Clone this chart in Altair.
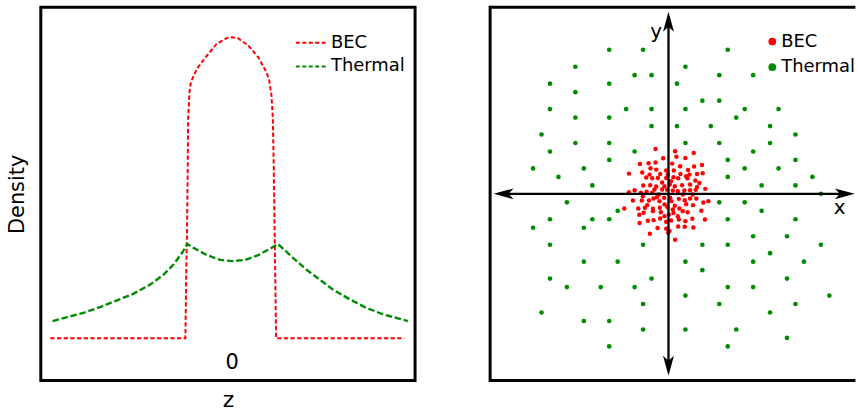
import altair as alt
import pandas as pd

FONT = "DejaVu Sans"
RED = "#ff0000"
GREEN = "#008c00"

# ---------------- data: left panel (density profiles along z) ----------------
bec_z = [-3.97, -1.02, -1.01, -1.00, -0.985, -0.97, -0.96, -0.93, -0.90, -0.77, -0.55,
         -0.34, -0.12, 0.0, 0.13, 0.35, 0.57, 0.75, 0.81, 0.86, 0.89, 0.91, 0.93, 0.95,
         0.96, 3.76]
bec_d = [0, 0, 0.123, 0.234, 0.344, 0.565, 0.730, 0.818, 0.851, 0.895, 0.939,
         0.978, 0.997, 1.0, 0.997, 0.973, 0.934, 0.884, 0.857, 0.807, 0.730, 0.565,
         0.344, 0.123, 0, 0]
thermal_z = [-3.92, -3.60, -3.23, -2.87, -2.51, -2.15, -1.78, -1.49, -1.28, -1.09, -0.98,
             -0.84, -0.55, -0.26, 0.0, 0.28, 0.57, 0.86, 1.0,
             1.11, 1.33, 1.62, 1.91, 2.20, 2.57, 2.93, 3.30, 3.84]
thermal_d = [0.057, 0.070, 0.085, 0.104, 0.126, 0.148, 0.179, 0.212, 0.245, 0.284, 0.313,
             0.300, 0.276, 0.260, 0.256, 0.260, 0.276, 0.300, 0.313,
             0.298, 0.267, 0.228, 0.195, 0.162, 0.129, 0.101, 0.079, 0.057]
series_names = ["BEC", "Thermal"]
series_colors = [RED, GREEN]
tick_values = [0]
tick_labels = ["0"]

# ---------------- data: right panel (atoms in the x-y plane) ----------------
# thermal atoms: row (y) -> x positions
green_rows = {
    17: [-7, -3, 7], 15: [-11, 2], 14: [-4, -2, 6, 10], 13: [-14, -7, 1], 12: [-11],
    11: [4, 6], 10: [-14, -5, -2, 2, 9, 13], 9: [-11, -7, 8], 8: [-2, 1, 5, 12],
    7: [-15, 15], 6: [-11, -7, 2, 6, 12], 5: [-14, -4, 10], 4: [-7, 7, 15],
    3: [-16, -10, 9, 13], 2: [-13, 7, 17], 1: [-9, 11, 15], 0: [18],
    -1: [-12, 6, 9], -2: [-6, 11], -3: [-14, -9, -7, 7, 15], -4: [-16, -10],
    -5: [10, 14], -6: [-14, -3, 4, 7, 18], -7: [12], -8: [-10, -6, 2, 10, 16],
    -9: [4], -10: [-14, -2, 14], -11: [-12, -8, -4, 7, 10], -12: [2, 19],
    -13: [-3, 6, 15], -14: [-15, 12], -15: [-10, -7], -16: [-3, 2, 8], -17: [14],
    -18: [-7, 7],
}
bec_points = [
    (-1.53, 5.29), (0.78, 5.02), (2.98, 4.82), (0.94, 4.39), (-0.63, 4.20), (2.00, 4.24),
    (-3.37, 3.53), (-2.35, 3.61), (-1.53, 3.69), (0.43, 3.57), (1.37, 3.25), (3.02, 3.22), (3.96, 3.41),
    (-2.12, 3.02), (-1.45, 2.86), (-0.27, 2.75), (0.63, 2.75), (2.31, 2.82),
    (-4.67, 2.39), (-3.10, 2.51), (-0.98, 2.35), (-0.08, 2.27), (1.41, 2.35), (2.08, 2.08), (3.37, 2.35), (4.04, 2.43),
    (-2.63, 1.92), (-1.92, 1.84), (-1.25, 1.88), (-0.27, 1.88), (0.59, 1.96), (1.14, 1.84), (2.24, 1.84), (3.18, 1.57),
    (-2.98, 0.98), (-2.16, 1.02), (-1.45, 0.86), (-0.75, 1.33), (0.16, 1.10), (0.75, 0.90), (1.61, 1.02), (2.55, 1.10),
    (3.37, 0.82), (4.35, 0.59),
    (-4.00, 0.43), (-3.25, 0.12), (-2.59, 0.24), (-1.92, 0.12), (-1.14, -0.08), (-0.75, 0.51), (-0.16, 0.47), (0.51, 0.39),
    (1.10, 0.31), (1.88, 0.39), (2.55, 0.43), (3.22, 0.47), (-4.67, 0.20),
    (-4.20, -0.78), (-3.14, -0.78), (-2.31, -0.78), (-1.76, -0.55), (-1.37, -0.39), (-0.51, -0.47), (0.20, -0.47),
    (1.22, -0.59), (1.92, -0.75), (2.55, -0.55), (3.29, -0.55), (4.12, -1.02), (4.71, -0.86),
    (-5.22, -1.73), (-3.57, -1.73), (-2.78, -1.65), (-1.84, -1.76), (-1.02, -1.65), (-0.12, -1.57), (0.75, -1.41),
    (1.29, -1.73), (2.08, -1.22), (2.90, -1.33), (3.88, -2.00),
    (-3.45, -2.47), (-2.94, -2.24), (-1.84, -2.04), (-0.90, -2.16), (0.04, -2.43), (0.59, -2.27), (1.69, -2.04),
    (2.27, -2.16), (2.82, -2.94), (4.31, -3.02),
    (-3.41, -3.45), (-2.43, -3.18), (-1.76, -3.10), (-0.98, -2.90), (-0.27, -3.29), (0.31, -3.14), (1.22, -3.02), (2.00, -3.22),
    (-2.20, -4.71), (-1.29, -4.04), (-0.27, -4.12), (0.12, -4.39), (1.14, -3.84), (1.92, -3.88), (2.94, -3.96),
    (-0.04, -4.59), (0.78, -5.41),
    (-0.47, 0.90), (0.31, 1.49), (-0.47, -1.25), (0.35, -0.86), (-1.06, -0.86), (1.69, -0.08), (-1.65, 0.51),
    (2.86, -0.08), (-2.51, -1.33), (0.51, -1.84), (-0.47, -2.63), (1.10, -2.63), (-3.02, -0.27), (3.65, 1.29),
    (2.47, 2.27), (-2.24, 2.27),
]
axis_names = ["x", "y"]

# ---------------- layout ----------------
W1, W2, H = 376, 367, 375
XD1 = [-4.178, 3.996]
YD1 = [-0.1406, 1.0999]
XD2 = [-21.07, 22.08]
YD2 = [-22.02, 22.02]

# ================= left panel =================
prof = pd.DataFrame({
    "z": bec_z + thermal_z,
    "d": bec_d + thermal_d,
    "series": ["BEC"] * len(bec_z) + ["Thermal"] * len(thermal_z),
    "i": list(range(len(bec_z))) + list(range(len(thermal_z))),
})
xs1 = alt.Scale(domain=XD1, nice=False, zero=False)
ys1 = alt.Scale(domain=YD1, nice=False, zero=False)
xax1 = alt.Axis(title="z", labels=False, ticks=False, domain=False, grid=False,
                titleFont=FONT, titleFontSize=22, titleFontWeight="normal",
                titleColor="black", titlePadding=9)
yax1 = alt.Axis(title="Density", labels=False, ticks=False, domain=False, grid=False,
                titleFont=FONT, titleFontSize=21, titleFontWeight="normal",
                titleColor="black", titlePadding=13)

lines = alt.Chart(prof).mark_line(clip=True).encode(
    x=alt.X("z:Q", scale=xs1, axis=xax1),
    y=alt.Y("d:Q", scale=ys1, axis=yax1),
    color=alt.Color("series:N", scale=alt.Scale(domain=series_names, range=series_colors), legend=None),
    strokeDash=alt.StrokeDash("series:N", scale=alt.Scale(domain=series_names, range=[[4.3, 2.4], [6.5, 2.8]]),
                              legend=None),
    strokeWidth=alt.StrokeWidth("series:N", scale=alt.Scale(domain=series_names, range=[2.0, 2.4]), legend=None),
    order="i:Q",
)

zero_lbl = alt.Chart(pd.DataFrame({"z": tick_values, "t": tick_labels})).mark_text(
    font=FONT, fontSize=21, baseline="middle", align="center", color="black"
).encode(x=alt.X("z:Q", scale=xs1, axis=xax1), y=alt.value(357.7), text="t:N")

left_layers = [lines, zero_lbl]
for k, (name, col) in enumerate(zip(series_names, series_colors)):
    row = pd.DataFrame({"label": [name]})
    yy = 35.7 + 23.8 * k
    left_layers.append(
        alt.Chart(row).mark_rule(color=col, strokeWidth=2, strokeDash=[4, 2.5]).encode(
            x=alt.value(256.2), x2=alt.value(288.6), y=alt.value(yy))
    )
    left_layers.append(
        alt.Chart(row).mark_text(font=FONT, fontSize=18, align="left", baseline="middle", color="black").encode(
            x=alt.value(291.5), y=alt.value(yy), text="label:N")
    )

left = alt.layer(*left_layers).properties(
    width=W1, height=H, view=alt.ViewBackground(stroke="black", strokeWidth=3)
)

# ================= right panel =================
xs2 = alt.Scale(domain=XD2, nice=False, zero=False)
ys2 = alt.Scale(domain=YD2, nice=False, zero=False)

gx, gy = [], []
for yv, xl in green_rows.items():
    for xv in xl:
        gx.append(xv)
        gy.append(yv)
green_df = pd.DataFrame({"x": gx, "y": gy})
red_df = pd.DataFrame({"x": [p[0] for p in bec_points], "y": [p[1] for p in bec_points]})

green_pts = alt.Chart(green_df).mark_circle(size=22, opacity=1, color=GREEN).encode(
    x=alt.X("x:Q", scale=xs2, axis=None), y=alt.Y("y:Q", scale=ys2, axis=None))
red_pts = alt.Chart(red_df).mark_circle(size=20, opacity=1, color=RED).encode(
    x=alt.X("x:Q", scale=xs2, axis=None), y=alt.Y("y:Q", scale=ys2, axis=None))

# frame (left, top, bottom edges; the right edge lies outside the picture)
frame_v = alt.Chart(pd.DataFrame({"x": [XD2[0]], "y": [YD2[0]], "y2": [YD2[1]]})).mark_rule(
    color="black", strokeWidth=3, strokeCap="square", clip=False).encode(
    x=alt.X("x:Q", scale=xs2, axis=None), y=alt.Y("y:Q", scale=ys2, axis=None), y2="y2:Q")
frame_h = alt.Chart(pd.DataFrame({"x": [XD2[0], XD2[0]], "x2": [XD2[1], XD2[1]],
                                  "y": [YD2[1], YD2[0]]})).mark_rule(
    color="black", strokeWidth=3, clip=False).encode(
    x=alt.X("x:Q", scale=xs2, axis=None), x2="x2:Q", y=alt.Y("y:Q", scale=ys2, axis=None))

# coordinate axes with arrowheads
tips = pd.DataFrame({
    "dir": ["left", "right", "up", "down"],
    "x": [-20.65, 22.0, 0, 0],
    "y": [0, 0, 21.49, -21.45],
})
axis_lines = alt.Chart(pd.DataFrame({
    "x": [-19.65, 0], "x2": [21.0, 0], "y": [0, -20.45], "y2": [0, 20.49]})).mark_rule(
    color="black", strokeWidth=2.3).encode(
    x=alt.X("x:Q", scale=xs2, axis=None), x2="x2:Q", y=alt.Y("y:Q", scale=ys2, axis=None), y2="y2:Q")
arrow_paths = [
    "M0,0L2,-0.55L1.5,0L2,0.55Z",
    "M0,0L-2,-0.55L-1.5,0L-2,0.55Z",
    "M0,0L-0.55,2L0,1.5L0.55,2Z",
    "M0,0L-0.55,-2L0,-1.5L0.55,-2Z",
]
heads = alt.Chart(tips).mark_point(filled=True, size=400, opacity=1, color="black", strokeWidth=0).encode(
    x=alt.X("x:Q", scale=xs2, axis=None), y=alt.Y("y:Q", scale=ys2, axis=None),
    shape=alt.Shape("dir:N", scale=alt.Scale(domain=["left", "right", "up", "down"], range=arrow_paths),
                    legend=None))

right_layers = [green_pts, red_pts, axis_lines, heads, frame_v, frame_h]
for name, (px, py) in zip(axis_names, [(351.1, 201.8), (166.8, 24.5)]):
    right_layers.append(
        alt.Chart(pd.DataFrame({"t": [name]})).mark_text(
            font=FONT, fontSize=20, align="center", baseline="middle", color="black").encode(
            x=alt.value(px), y=alt.value(py), text="t:N"))
for k, (name, col) in enumerate(zip(series_names, series_colors)):
    row = pd.DataFrame({"label": [name]})
    yy = 34.5 + 25.7 * k
    right_layers.append(
        alt.Chart(row).mark_circle(size=60, opacity=1, color=col).encode(x=alt.value(283.5), y=alt.value(yy)))
    right_layers.append(
        alt.Chart(row).mark_text(font=FONT, fontSize=18, align="left", baseline="middle", color="black").encode(
            x=alt.value(292.5), y=alt.value(yy), text="label:N"))

right = alt.layer(*right_layers).properties(width=W2, height=H)

chart = alt.hconcat(left, right, spacing=75.4, bounds="flush").configure(
    padding={"left": 5, "top": 3.3, "right": 0, "bottom": 0},
    background="white",
).configure_view(stroke="transparent")

chart.save("out.html", embed_options={"renderer": "svg", "actions": False})
